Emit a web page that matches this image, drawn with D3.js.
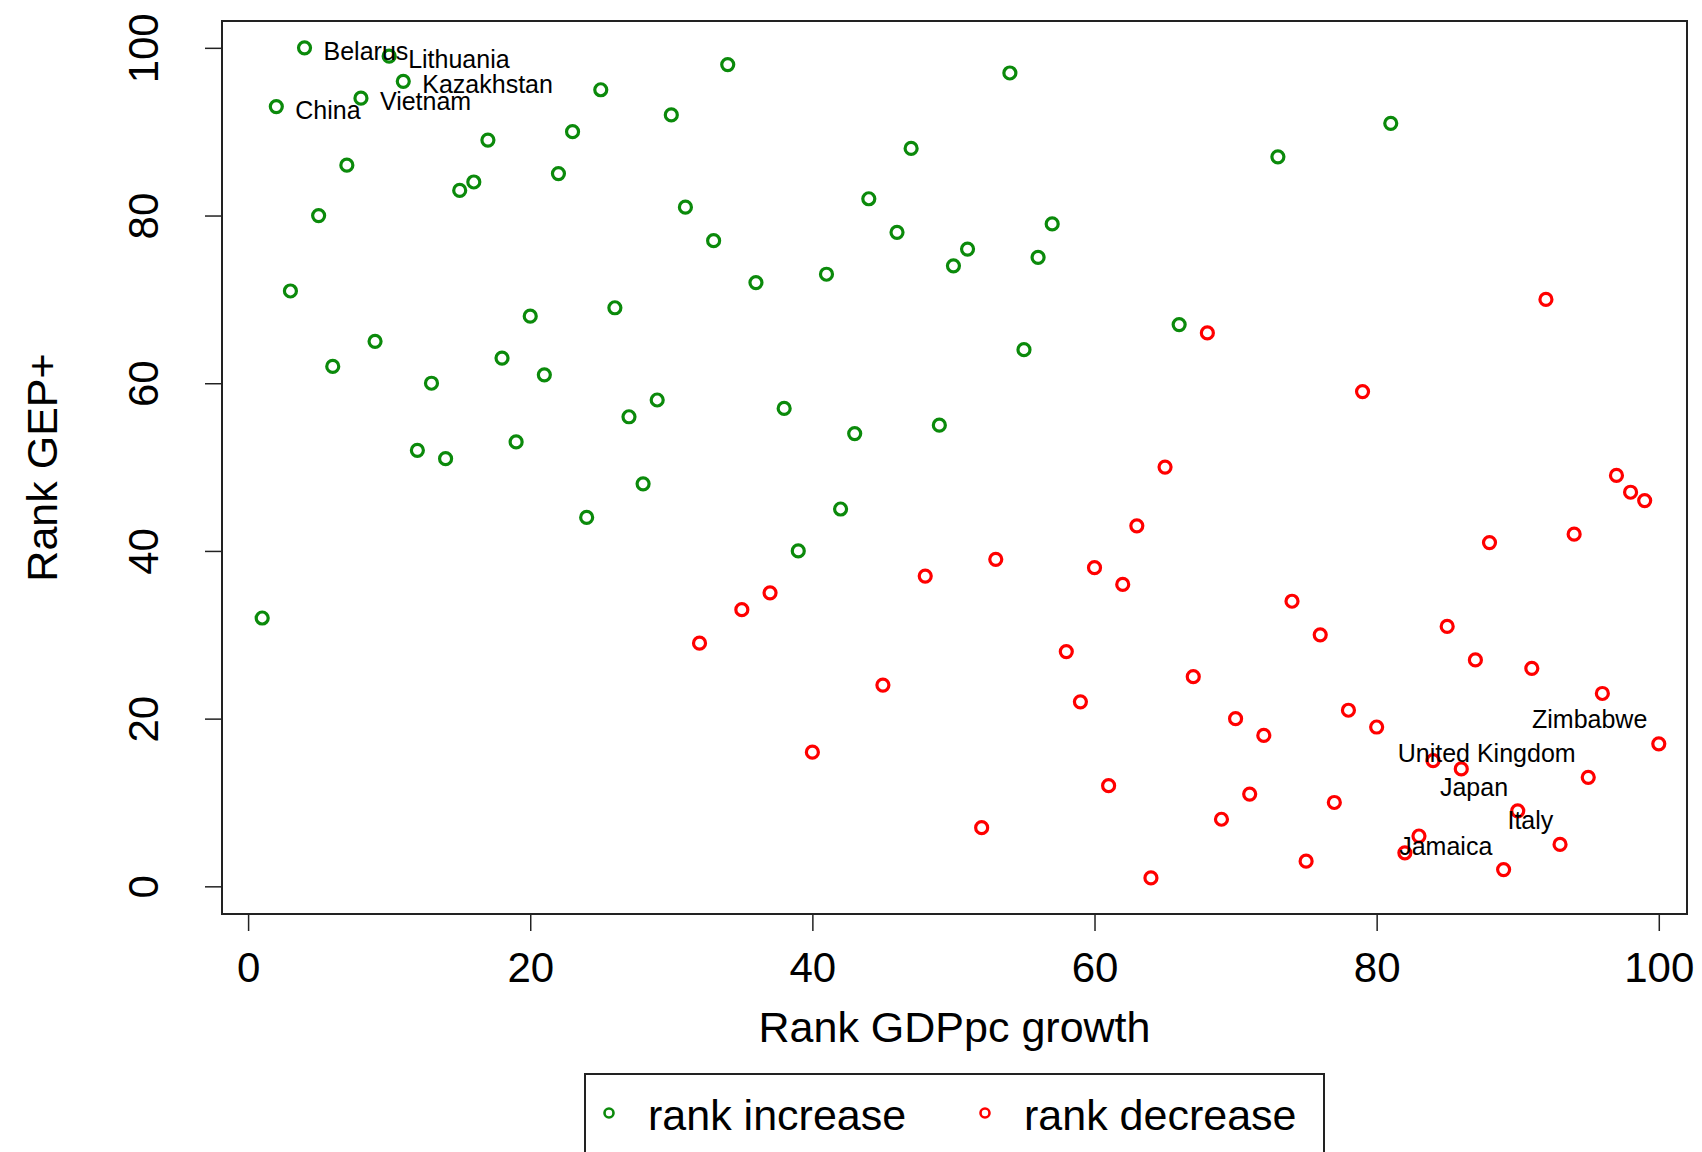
<!DOCTYPE html>
<html>
<head>
<meta charset="utf-8">
<script src="https://cdn.jsdelivr.net/npm/d3@7/dist/d3.min.js"></script>
<style>
  html, body { margin: 0; padding: 0; background: #fff; }
  svg { display: block; font-family: "Liberation Sans", Arial, Helvetica, sans-serif; }
</style>
</head>
<body>
<svg id="chart" width="1702" height="1152"></svg>
<script>
// ---- Data ----
// rank increase (green)
const incX = [4, 10, 11, 8, 2, 34, 25, 54, 30, 81, 23, 17, 47, 73, 7, 22, 16, 15, 44, 31,
              5, 57, 46, 33, 51, 56, 50, 41, 36, 3, 26, 66, 20, 9, 55, 18, 6, 21, 13, 29,
              38, 27, 49, 43, 19, 12, 14, 28, 42, 24, 39, 1];
const incY = [100, 99, 96, 94, 93, 98, 95, 97, 92, 91, 90, 89, 88, 87, 86, 85, 84, 83, 82, 81,
              80, 79, 78, 77, 76, 75, 74, 73, 72, 71, 69, 67, 68, 65, 64, 63, 62, 61, 60, 58,
              57, 56, 55, 54, 53, 52, 51, 48, 45, 44, 40, 32];
// rank decrease (red)
const decX = [92, 68, 79, 65, 97, 98, 99, 63, 94, 88, 53, 60, 48, 62, 37, 74, 35, 85, 76, 32,
              58, 87, 91, 67, 45, 96, 59, 78, 70, 80, 72, 100, 40, 84, 86, 95, 61, 71, 77, 90,
              69, 52, 83, 93, 82, 75, 89, 64];
const decY = [70, 66, 59, 50, 49, 47, 46, 43, 42, 41, 39, 38, 37, 36, 35, 34, 33, 31, 30, 29,
              28, 27, 26, 25, 24, 23, 22, 21, 20, 19, 18, 17, 16, 15, 14, 13, 12, 11, 10, 9,
              8, 7, 6, 5, 4, 3, 2, 1];
// labels attached to points (text to the right of the point)
const pointLabelNames = ["Belarus", "Lithuania", "Kazakhstan", "Vietnam", "China"];
const pointLabelX = [4, 10, 11, 8, 2];
const pointLabelY = [100, 99, 96, 94, 93];
// free labels (centred at data position)
const noteLabelNames = ["Zimbabwe", "United Kingdom", "Japan", "Italy", "Jamaica"];
const noteLabelX = [95.1, 87.8, 86.9, 90.9, 84.9];
const noteLabelY = [20.0, 15.9, 11.9, 7.9, 4.85];
// axes
const xTicks = [0, 20, 40, 60, 80, 100];
const yTicks = [0, 20, 40, 60, 80, 100];
const xTitle = "Rank GDPpc growth";
const yTitle = "Rank GEP+";
const legendLabels = ["rank increase", "rank decrease"];
const seriesColors = ["#0b8a0b", "#ff0000"];

// ---- Layout ----
const svg = d3.select("#chart");
const plot = { left: 222, right: 1687, top: 21, bottom: 914 };
const x = d3.scaleLinear().domain([-1.85, 102.0]).range([plot.left, plot.right]);
const y = d3.scaleLinear().domain([-3.3, 103.2]).range([plot.bottom, plot.top]);

const axisColor = "#222";
const tickFont = 42;

// Box
svg.append("rect")
  .attr("x", plot.left).attr("y", plot.top)
  .attr("width", plot.right - plot.left).attr("height", plot.bottom - plot.top)
  .attr("fill", "none").attr("stroke", axisColor).attr("stroke-width", 2);

// X axis
const gx = svg.append("g").attr("transform", `translate(0,${plot.bottom})`)
  .call(d3.axisBottom(x).tickValues(xTicks).tickSize(17).tickFormat(d3.format("d")));
gx.select(".domain").remove();
gx.selectAll(".tick line").attr("stroke", axisColor).attr("stroke-width", 1.5);
gx.selectAll(".tick text")
  .attr("y", 68).attr("dy", 0)
  .attr("font-size", tickFont).attr("fill", "#000")
  .attr("font-family", "Liberation Sans, Arial, sans-serif");
gx.append("line").attr("x1", x(xTicks[0])).attr("x2", x(xTicks[xTicks.length - 1]))
  .attr("y1", 0).attr("y2", 0).attr("stroke", axisColor).attr("stroke-width", 2);

// Y axis
const gy = svg.append("g").attr("transform", `translate(${plot.left},0)`)
  .call(d3.axisLeft(y).tickValues(yTicks).tickSize(17).tickFormat(d3.format("d")));
gy.select(".domain").remove();
gy.selectAll(".tick line").attr("stroke", axisColor).attr("stroke-width", 1.5);
gy.selectAll(".tick text")
  .attr("transform", "rotate(-90)")
  .attr("x", 0).attr("y", -64).attr("dy", 0)
  .attr("text-anchor", "middle")
  .attr("font-size", tickFont).attr("fill", "#000")
  .attr("font-family", "Liberation Sans, Arial, sans-serif");
gy.append("line").attr("y1", y(yTicks[0])).attr("y2", y(yTicks[yTicks.length - 1]))
  .attr("x1", 0).attr("x2", 0).attr("stroke", axisColor).attr("stroke-width", 2);

// Axis titles
svg.append("text")
  .attr("x", (plot.left + plot.right) / 2).attr("y", 1042)
  .attr("text-anchor", "middle").attr("font-size", 43).attr("fill", "#000")
  .text(xTitle);
svg.append("text")
  .attr("transform", `translate(57,${(plot.top + plot.bottom) / 2}) rotate(-90)`)
  .attr("text-anchor", "middle").attr("font-size", 43).attr("fill", "#000")
  .text(yTitle);

// Points
const incData = incX.map((v, i) => ({ x: v, y: incY[i] }));
const decData = decX.map((v, i) => ({ x: v, y: decY[i] }));
const pts = svg.append("g");
pts.selectAll("circle.inc").data(incData).join("circle")
  .attr("class", "inc")
  .attr("cx", d => x(d.x)).attr("cy", d => y(d.y)).attr("r", 6)
  .attr("fill", "none").attr("stroke", seriesColors[0]).attr("stroke-width", 3.2);
pts.selectAll("circle.dec").data(decData).join("circle")
  .attr("class", "dec")
  .attr("cx", d => x(d.x)).attr("cy", d => y(d.y)).attr("r", 6)
  .attr("fill", "none").attr("stroke", seriesColors[1]).attr("stroke-width", 3.2);

// Labels
const labG = svg.append("g").attr("font-size", 25).attr("fill", "#000");
labG.selectAll("text.pl").data(pointLabelNames.map((n, i) => ({ n, x: pointLabelX[i], y: pointLabelY[i] })))
  .join("text").attr("class", "pl")
  .attr("x", d => x(d.x) + 19).attr("y", d => y(d.y) + 12)
  .text(d => d.n);
labG.selectAll("text.nl").data(noteLabelNames.map((n, i) => ({ n, x: noteLabelX[i], y: noteLabelY[i] })))
  .join("text").attr("class", "nl")
  .attr("x", d => x(d.x)).attr("y", d => y(d.y)).attr("dy", "0.36em")
  .attr("text-anchor", "middle")
  .text(d => d.n);

// Legend
const leg = svg.append("g");
leg.append("rect").attr("x", 585).attr("y", 1074).attr("width", 739).attr("height", 120)
  .attr("fill", "none").attr("stroke", axisColor).attr("stroke-width", 2);
const legX = [609, 985];
legendLabels.forEach((lab, i) => {
  leg.append("circle").attr("cx", legX[i]).attr("cy", 1113).attr("r", 4.5)
    .attr("fill", "none").attr("stroke", seriesColors[i]).attr("stroke-width", 2.6);
  leg.append("text").attr("x", legX[i] + 39).attr("y", 1130)
    .attr("font-size", 43).attr("fill", "#000").text(lab);
});
</script>
</body>
</html>
